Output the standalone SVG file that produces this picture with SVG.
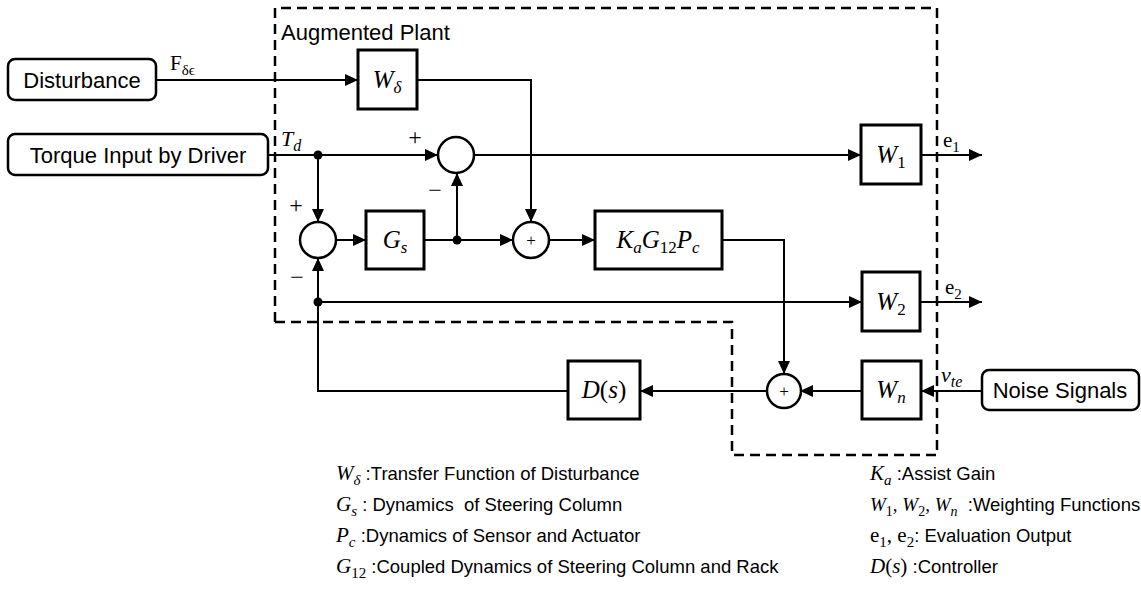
<svg xmlns="http://www.w3.org/2000/svg" width="1141" height="596" viewBox="0 0 1141 596">
<style>
.t{font-family:"Liberation Sans",Arial,sans-serif;font-size:22px;fill:#000}
.lg{font-family:"Liberation Sans",Arial,sans-serif;font-size:18.5px;fill:#000;white-space:pre}
.m{font-family:"Liberation Serif","DejaVu Serif",serif;font-style:italic}
.r{font-family:"Liberation Serif","DejaVu Serif",serif}
.box{fill:#fff;stroke:#000;stroke-width:3}
.rbox{fill:#fff;stroke:#000;stroke-width:2.5}
.sum{fill:#fff;stroke:#000;stroke-width:2.5}
.ln{fill:none;stroke:#000;stroke-width:2}
.arr{fill:none;stroke:#000;stroke-width:2;marker-end:url(#ah)}
.dash{fill:none;stroke:#000;stroke-width:2.5;stroke-dasharray:10,6}
.bl{font-family:"Liberation Serif","DejaVu Serif",serif;font-style:italic;font-size:25px;text-anchor:middle}
</style>
<defs>
<marker id="ah" markerUnits="userSpaceOnUse" markerWidth="14" markerHeight="12" refX="13" refY="6" orient="auto">
<path d="M0,0 L13,6 L0,12 z" fill="#000"/>
</marker>
</defs>
<rect width="1141" height="596" fill="#fff"/>

<g id="boundary">
<path class="dash" d="M275,322 V8 H937 V455 H732 V322 H275"/>
<text class="t" x="281" y="40" font-size="21">Augmented Plant</text>
</g>

<g id="connectors">
<path class="arr" d="M156,80 H358"/>
<path class="arr" d="M268,155 H438"/>
<path class="arr" d="M475,155 H861"/>
<path class="arr" d="M921,155 H982"/>
<path class="arr" d="M417,80 H531 V222"/>
<path class="arr" d="M318,155 V222"/>
<path class="arr" d="M336,240 H366"/>
<path class="arr" d="M424,240 H513"/>
<path class="arr" d="M457,240 V173"/>
<path class="arr" d="M549,240 H595"/>
<path class="arr" d="M722,240 H784 V374"/>
<path class="arr" d="M318,302 H862"/>
<path class="arr" d="M920,302 H982"/>
<path class="ln" d="M568,391 H318 V300"/>
<path class="arr" d="M318,302 V258"/>
<path class="arr" d="M766,391 H640"/>
<path class="arr" d="M862,391 H800"/>
<path class="arr" d="M982,391 H921"/>
<circle cx="318" cy="155" r="4.5"/>
<circle cx="457" cy="240" r="4.5"/>
<circle cx="318" cy="302" r="4.5"/>
</g>

<g id="disturbance">
<rect class="rbox" x="8" y="59" width="148" height="41" rx="7"/>
<text class="t" x="82" y="88" text-anchor="middle">Disturbance</text>
<text x="170" y="70" font-size="21" class="r">F<tspan font-size="15" dy="5">δϵ</tspan></text>
</g>

<g id="torque">
<rect class="rbox" x="8" y="134" width="260" height="41" rx="7"/>
<text class="t" x="138" y="163" text-anchor="middle">Torque Input by Driver</text>
<text x="281" y="146" font-size="22" class="m">T<tspan font-size="16" dy="5">d</tspan></text>
</g>

<g id="w_delta">
<rect class="box" x="358" y="50" width="59" height="59"/>
<text class="bl" x="387" y="88">W<tspan font-size="17" dy="5">δ</tspan></text>
</g>

<g id="sum1">
<circle class="sum" cx="456" cy="155" r="18"/>
<text x="415" y="145" font-size="24" class="r" text-anchor="middle">+</text>
<text x="435" y="198" font-size="24" class="r" text-anchor="middle">−</text>
</g>

<g id="sum2">
<circle class="sum" cx="318" cy="240" r="18"/>
<text x="296" y="213" font-size="24" class="r" text-anchor="middle">+</text>
<text x="297" y="285" font-size="24" class="r" text-anchor="middle">−</text>
</g>

<g id="gs">
<rect class="box" x="366" y="211" width="58" height="58"/>
<text class="bl" x="395" y="248">G<tspan font-size="17" dy="5">s</tspan></text>
</g>

<g id="sum3">
<circle class="sum" cx="531" cy="240" r="18"/>
<text x="531" y="246" font-size="17" class="r" text-anchor="middle">+</text>
</g>

<g id="kgp">
<rect class="box" x="595" y="211" width="127" height="58"/>
<text class="bl" x="658" y="248">K<tspan font-size="17" dy="5">a</tspan><tspan dy="-5">G</tspan><tspan font-size="17" dy="5" font-style="normal">12</tspan><tspan dy="-5">P</tspan><tspan font-size="17" dy="5">c</tspan></text>
</g>

<g id="w1">
<rect class="box" x="861" y="125" width="60" height="59"/>
<text class="bl" x="891" y="163">W<tspan font-size="17" dy="5" font-style="normal">1</tspan></text>
<text x="943" y="147" font-size="21" class="r">e<tspan font-size="15" dy="5">1</tspan></text>
</g>

<g id="w2">
<rect class="box" x="862" y="272" width="58" height="59"/>
<text class="bl" x="891" y="310">W<tspan font-size="17" dy="5" font-style="normal">2</tspan></text>
<text x="945" y="294" font-size="21" class="r">e<tspan font-size="15" dy="5">2</tspan></text>
</g>

<g id="sum4">
<circle class="sum" cx="784" cy="391" r="17"/>
<text x="784" y="397" font-size="17" class="r" text-anchor="middle">+</text>
</g>

<g id="ds">
<rect class="box" x="568" y="361" width="72" height="58"/>
<text class="bl" x="604" y="398">D<tspan font-style="normal">(</tspan>s<tspan font-style="normal">)</tspan></text>
</g>

<g id="wn">
<rect class="box" x="862" y="361" width="59" height="58"/>
<text class="bl" x="891" y="398">W<tspan font-size="17" dy="5">n</tspan></text>
</g>

<g id="noise">
<rect class="rbox" x="982" y="370" width="157" height="40" rx="7"/>
<text class="t" x="1060" y="398" text-anchor="middle">Noise Signals</text>
<text x="941" y="382" font-size="22" class="m">v<tspan font-size="16" dy="5">te</tspan></text>
</g>

<g id="legend">
<text class="lg" x="336" y="480"><tspan class="m" font-size="21">W</tspan><tspan class="m" font-size="15" dy="5">δ</tspan><tspan dy="-5"> :Transfer Function of Disturbance</tspan></text>
<text class="lg" x="336" y="511"><tspan class="m" font-size="21">G</tspan><tspan class="m" font-size="15" dy="5">s</tspan><tspan dy="-5"> : Dynamics  of Steering Column</tspan></text>
<text class="lg" x="336" y="542"><tspan class="m" font-size="21">P</tspan><tspan class="m" font-size="15" dy="5">c</tspan><tspan dy="-5"> :Dynamics of Sensor and Actuator</tspan></text>
<text class="lg" x="336" y="573"><tspan class="m" font-size="21">G</tspan><tspan class="r" font-size="15" dy="5">12</tspan><tspan dy="-5"> :Coupled Dynamics of Steering Column and Rack</tspan></text>
<text class="lg" x="870" y="480"><tspan class="m" font-size="21">K</tspan><tspan class="m" font-size="15" dy="5">a</tspan><tspan dy="-5"> :Assist Gain</tspan></text>
<text class="lg" x="870" y="511" font-size="17"><tspan class="m" font-size="19">W</tspan><tspan class="r" font-size="14" dy="5">1</tspan><tspan class="r" font-size="19" dy="-5">, </tspan><tspan class="m" font-size="19">W</tspan><tspan class="r" font-size="14" dy="5">2</tspan><tspan class="r" font-size="19" dy="-5">, </tspan><tspan class="m" font-size="19">W</tspan><tspan class="m" font-size="14" dy="5">n</tspan><tspan dy="-5">  :Weighting Functions</tspan></text>
<text class="lg" x="870" y="542"><tspan class="r" font-size="21">e</tspan><tspan class="r" font-size="15" dy="5">1</tspan><tspan class="r" font-size="21" dy="-5">, e</tspan><tspan class="r" font-size="15" dy="5">2</tspan><tspan dy="-5">: Evaluation Output</tspan></text>
<text class="lg" x="870" y="573"><tspan class="m" font-size="21">D</tspan><tspan class="r" font-size="21">(</tspan><tspan class="m" font-size="21">s</tspan><tspan class="r" font-size="21">)</tspan><tspan> :Controller</tspan></text>
</g>
</svg>
